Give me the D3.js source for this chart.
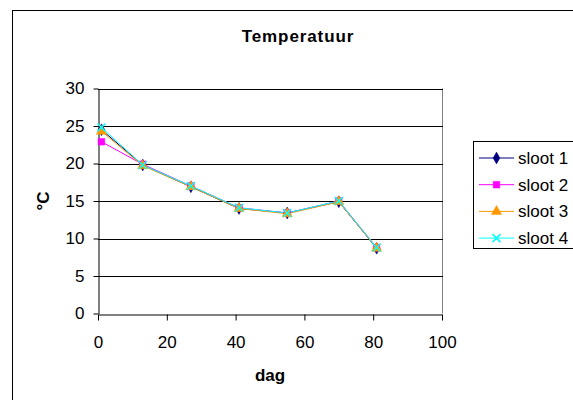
<!DOCTYPE html>
<html>
<head>
<meta charset="utf-8">
<script src="https://cdn.jsdelivr.net/npm/d3@7"></script>
<style>
  html, body { margin: 0; padding: 0; background: #fff; }
  svg { display: block; font-family: "Liberation Sans", Arial, sans-serif; }
</style>
</head>
<body>
<svg id="chart" width="573" height="400"></svg>
<script>
const title = "Temperatuur";
const xLabel = "dag";
const yLabel = "°C";
const days = [1, 13, 27, 41, 55, 70, 81];
const sloot1 = [24.5, 19.8, 16.9, 14.0, 13.4, 14.9, 8.7];
const sloot2 = [22.9, 19.9, 17.0, 14.1, 13.4, 15.0, 8.8];
const sloot3 = [24.3, 19.7, 16.9, 14.0, 13.3, 14.9, 8.7];
const sloot4 = [24.8, 19.8, 17.0, 14.1, 13.4, 15.0, 8.8];
const seriesNames = ["sloot 1", "sloot 2", "sloot 3", "sloot 4"];
const xTicks = [0, 20, 40, 60, 80, 100];
const yTicks = [0, 5, 10, 15, 20, 25, 30];

const seriesValues = [sloot1, sloot2, sloot3, sloot4];
const colors = ["#000080", "#FF00FF", "#FF9900", "#00FFFF"];
const symbols = [d3.symbolDiamond, d3.symbolSquare, d3.symbolTriangle, d3.symbolCross];

const svg = d3.select("#chart");
const FS = 17;

// outer chart border
svg.append("rect").attr("x", 12.5).attr("y", 10.5).attr("width", 600).attr("height", 420)
  .attr("fill", "#fff").attr("stroke", "#000").attr("stroke-width", 1);

const plot = { left: 98, right: 442, top: 88.5, bottom: 313.5 };
const x = d3.scaleLinear().domain([0, 100]).range([plot.left, plot.right]);
const y = d3.scaleLinear().domain([0, 30]).range([plot.bottom, plot.top]);

// plot area border (right side gray)
svg.append("line").attr("x1", plot.right + 0.5).attr("x2", plot.right + 0.5)
  .attr("y1", plot.top).attr("y2", plot.bottom).attr("stroke", "#808080");

// gridlines
svg.append("g").selectAll("line").data(yTicks.filter(d => d > 0)).join("line")
  .attr("x1", plot.left).attr("x2", plot.right + 1)
  .attr("y1", d => Math.round(y(d)) + 0.5).attr("y2", d => Math.round(y(d)) + 0.5)
  .attr("stroke", "#000").attr("stroke-width", 1);

// axes
const xAxis = svg.append("g").attr("transform", `translate(0,${Math.round(plot.bottom) + 0.5})`)
  .call(d3.axisBottom(x).tickValues(xTicks).tickSize(6).tickSizeOuter(0).tickPadding(15));
const yAxis = svg.append("g").attr("transform", `translate(${plot.left + 0.5},0)`)
  .call(d3.axisLeft(y).tickValues(yTicks).tickSize(5).tickSizeOuter(0).tickPadding(9));
[xAxis, yAxis].forEach(g => {
  g.select(".domain").attr("stroke", "#000");
  g.selectAll(".tick line").attr("stroke", "#000");
  g.selectAll(".tick text").attr("font-size", FS).attr("fill", "#000")
    .attr("font-family", "Liberation Sans, Arial, sans-serif");
});

// lines and markers
const line = d3.line().x((d, i) => x(days[i])).y(d => y(d));
seriesValues.forEach((vals, s) => {
  svg.append("path").datum(vals).attr("d", line)
    .attr("fill", "none").attr("stroke", colors[s]).attr("stroke-width", 1);
});
function drawMarker(g, s, cx, cy) {
  if (s === 3) {
    g.append("path")
      .attr("d", `M${cx-4},${cy-4}L${cx+4},${cy+4}M${cx-4},${cy+4}L${cx+4},${cy-4}`)
      .attr("stroke", colors[s]).attr("stroke-width", 1.5).attr("fill", "none");
  } else {
    const size = s === 0 ? 40 : s === 1 ? 44 : 46;
    g.append("path").attr("d", d3.symbol().type(symbols[s]).size(size)())
      .attr("transform", `translate(${cx},${cy})`)
      .attr("fill", colors[s]).attr("stroke", colors[s]).attr("stroke-width", 0.5);
  }
}
seriesValues.forEach((vals, s) => {
  const g = svg.append("g");
  vals.forEach((v, i) => drawMarker(g, s, x(days[i]), y(v)));
});

// title
svg.append("text").attr("x", 298).attr("y", 42).attr("text-anchor", "middle")
  .attr("font-size", FS).attr("font-weight", "bold").attr("letter-spacing", 0.9).text(title);
// axis labels
svg.append("text").attr("x", 270).attr("y", 381).attr("text-anchor", "middle")
  .attr("font-size", FS).attr("font-weight", "bold").text(xLabel);
svg.append("text").attr("transform", "translate(49,201) rotate(-90)").attr("text-anchor", "middle")
  .attr("font-size", FS).attr("font-weight", "bold").text(yLabel);

// legend
const lg = svg.append("g");
lg.append("rect").attr("x", 473.5).attr("y", 141.5).attr("width", 120).attr("height", 107)
  .attr("fill", "#fff").attr("stroke", "#000");
seriesNames.forEach((name, s) => {
  const ly = 158 + s * 26.7;
  lg.append("line").attr("x1", 479).attr("x2", 514).attr("y1", ly).attr("y2", ly)
    .attr("stroke", colors[s]).attr("stroke-width", 1);
  drawMarker(lg, s, 496.5, ly);
  lg.append("text").attr("x", 518).attr("y", ly + 6).attr("font-size", FS).text(name);
});
</script>
</body>
</html>
